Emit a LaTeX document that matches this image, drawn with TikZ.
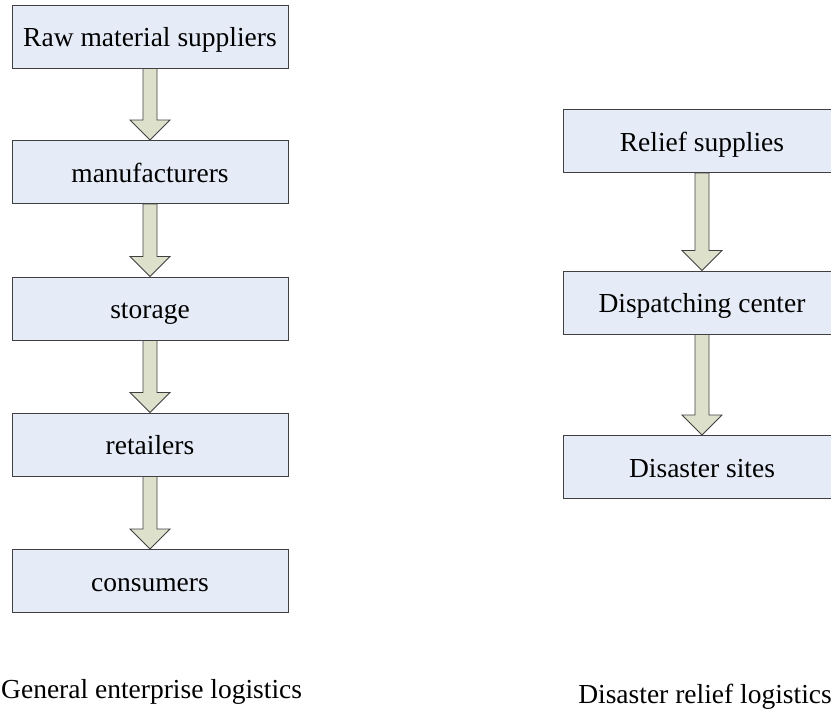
\documentclass[tikz,border=0pt]{standalone}
\usepackage{fontspec}
\setmainfont{Liberation Serif}
\usetikzlibrary{calc}
\definecolor{boxfill}{RGB}{230,236,247}
\definecolor{boxline}{RGB}{64,64,64}
\definecolor{arrfill}{RGB}{221,225,204}
\tikzset{
  stepbox/.style={draw=boxline, fill=boxfill, line width=1pt, minimum width=276pt, minimum height=63pt, inner sep=0pt, text height=20.5pt, text depth=0pt, font=\fontsize{27.5}{33}\selectfont},
  caption/.style={inner sep=0pt, font=\fontsize{27.5}{33}\selectfont},
  fatarrow/.style={draw=boxline, fill=arrfill, line width=0.8pt, line join=miter}
}
\newcommand\fatarr[2]{%
  \path[fatarrow] let \p1=(#1.south), \p2=(#2.north) in
    (\x1-7pt,\y1) -- (\x1+7pt,\y1) -- (\x1+7pt,\y2+20pt) -- (\x1+20pt,\y2+20pt)
    -- (\x1,\y2) -- (\x1-20pt,\y2+20pt) -- (\x1-7pt,\y2+20pt) -- cycle;}
\begin{document}
\begin{tikzpicture}[x=1pt,y=-1pt]
\clip (0,0) rectangle (831,710);
\node[stepbox] (b1) at (150,36.5) {Raw material suppliers};
\node[stepbox] (b2) at (150,172) {manufacturers};
\node[stepbox] (b3) at (150,308.5) {storage};
\node[stepbox] (b4) at (150,444.5) {retailers};
\node[stepbox] (b5) at (150,581) {consumers};
\node[stepbox, minimum width=278pt] (r1) at (702,141) {Relief supplies};
\node[stepbox, minimum width=278pt] (r2) at (702,302.5) {Dispatching center};
\node[stepbox, minimum width=278pt] (r3) at (702,467) {Disaster sites};
\fatarr{b1}{b2}
\fatarr{b2}{b3}
\fatarr{b3}{b4}
\fatarr{b4}{b5}
\fatarr{r1}{r2}
\fatarr{r2}{r3}
\node[caption, anchor=base west] (c1) at (1,698) {General enterprise logistics};
\node[caption, anchor=base east] (c2) at (832,703) {Disaster relief logistics};
\end{tikzpicture}
\end{document}
